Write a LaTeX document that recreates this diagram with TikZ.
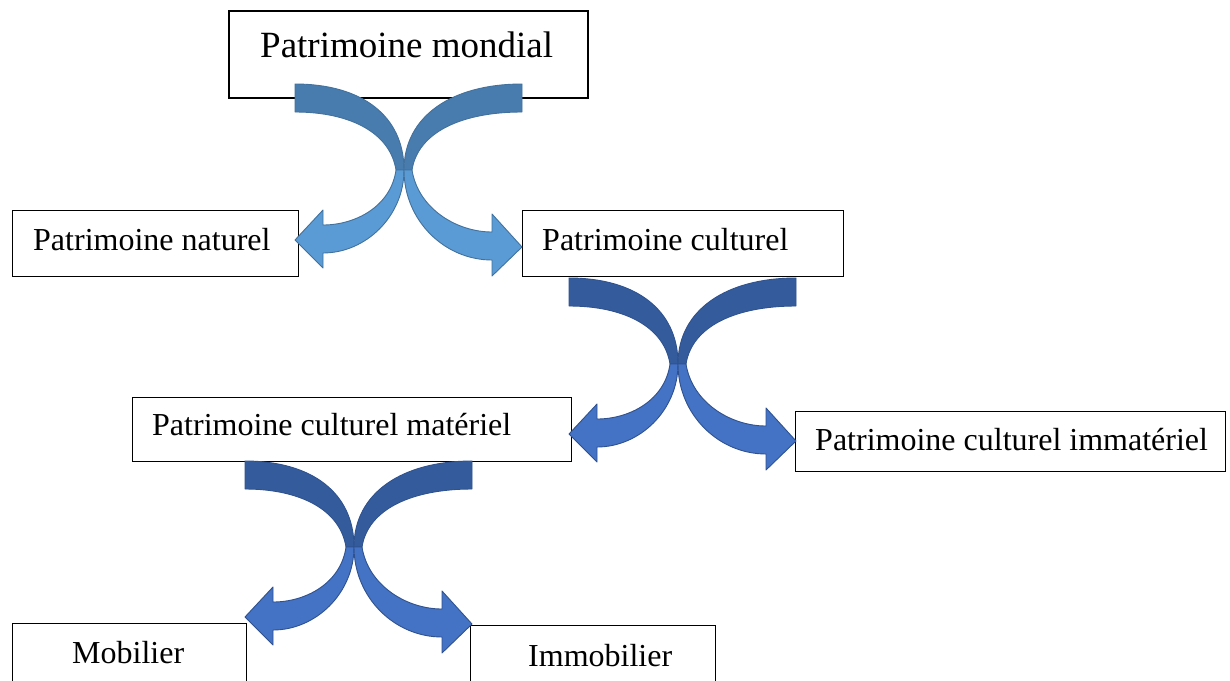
\documentclass[tikz,border=0pt]{standalone}
\usepackage{fontspec}
\setmainfont{Liberation Serif}
\definecolor{darkA}{HTML}{497CAE}
\definecolor{lightA}{HTML}{5B9BD5}
\definecolor{lineA}{HTML}{41719C}
\definecolor{darkB}{HTML}{345C9C}
\definecolor{lightB}{HTML}{4472C4}
\definecolor{lineB}{HTML}{2F528F}
\newcommand{\crossarrows}[4]{%
\begin{scope}[shift={(#1)}, every path/.style={draw=#4, line width=0.9pt, line join=round}]
  % left shape, back (dark) part
  \path[fill=#2] (-109,-86) .. controls (-42,-86) and (0,-54) .. (0,0)
     -- (-8,0) .. controls (-14,-38) and (-55,-58) .. (-109,-58) -- cycle;
  % left shape, front (light) part with arrow head
  \path[fill=#3] (0,0) .. controls (0,46) and (-38,83) .. (-81,83)
     -- (-81,98) -- (-109,70) -- (-81,40) -- (-81,55)
     .. controls (-48,55) and (-13,36) .. (-8,0) -- cycle;
  % right shape, back (dark) part
  \path[fill=#2] (118,-86) .. controls (48,-86) and (0,-54) .. (0,0)
     -- (8,0) .. controls (14,-38) and (58,-58) .. (118,-58) -- cycle;
  % right shape, front (light) part with arrow head
  \path[fill=#3] (0,0) .. controls (0,50) and (40,90) .. (88,90)
     -- (88,106) -- (118,77) -- (88,44) -- (88,62)
     .. controls (52,62) and (14,38) .. (8,0) -- cycle;
\end{scope}}
\begin{document}
\begin{tikzpicture}[x=1pt,y=-1pt,
  box/.style={draw=black, line width=1.1pt, fill=white, inner sep=0pt, anchor=north west},
  titlebox/.style={box, line width=2.4pt},
  lbl/.style={anchor=base west, inner sep=0pt, font=\fontsize{32}{38}\selectfont},
  titlelbl/.style={anchor=base west, inner sep=0pt, font=\fontsize{37}{44}\selectfont}]
\useasboundingbox[fill=white] (0,0) rectangle (1230,680);

% boxes
\node[titlebox, minimum width=359pt, minimum height=87pt] (tbox) at (228,10) {};
\node[box, minimum width=286pt, minimum height=66pt] (nbox) at (12,210) {};
\node[box, minimum width=321pt, minimum height=66pt] (cbox) at (522,210) {};
\node[box, minimum width=439pt, minimum height=64pt] (mbox) at (132,397) {};
\node[box, minimum width=430pt, minimum height=60pt] (ibox) at (795,411) {};
\node[box, minimum width=234pt, minimum height=80pt] (mobox) at (12,623) {};
\node[box, minimum width=245pt, minimum height=80pt] (imbox) at (470,625) {};

% texts
\node[titlelbl] (ttxt) at (260,57) {Patrimoine mondial};
\node[lbl] (ntxt) at (33,250) {Patrimoine naturel};
\node[lbl] (ctxt) at (542,250) {Patrimoine culturel};
\node[lbl] (mtxt) at (152,435) {Patrimoine culturel matériel};
\node[lbl] (itxt) at (815,450) {Patrimoine culturel immatériel};
\node[lbl] (motxt) at (72,663) {Mobilier};
\node[lbl] (imtxt) at (528,666) {Immobilier};

% crossing curved arrows
\coordinate (x1) at (404,170);
\coordinate (x2) at (678,364);
\coordinate (x3) at (354,547);
\crossarrows{x1}{darkA}{lightA}{lineA}
\crossarrows{x2}{darkB}{lightB}{lineB}
\crossarrows{x3}{darkB}{lightB}{lineB}
\end{tikzpicture}
\end{document}
